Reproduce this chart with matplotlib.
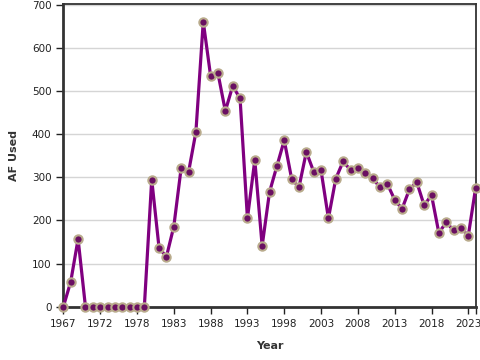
import numpy as np
import matplotlib
matplotlib.use("Agg")
import matplotlib.pyplot as plt

# years in the record (1975 is not in the data)
years = list(range(1967, 1975)) + list(range(1976, 2025))
af_used = [0, 58, 157, 0, 0, 0, 0, 0, 0, 0, 0, 0,
           295, 136, 116, 186, 322, 312, 405, 661, 535, 541,
           454, 512, 483, 205, 340, 141, 266, 326, 386, 297,
           277, 359, 313, 316, 205, 297, 337, 317, 322, 309,
           298, 277, 285, 248, 227, 272, 289, 235, 259, 171,
           196, 177, 182, 165, 276]
tick_idx = [0, 5, 10, 15, 20, 25, 30, 35, 40, 45, 50, 55, 56]
y_ticks = [0, 100, 200, 300, 400, 500, 600, 700]

x = np.arange(len(years))

fig = plt.figure(figsize=(4.8, 3.6), dpi=100)
ax = fig.add_axes([0.132, 0.148, 0.859, 0.842])

ax.plot(x, af_used, color="#800080", lw=2.3, marker="o", markersize=6,
        markerfacecolor="#6a0f62", markeredgecolor="#b9ab8c", mew=1.5,
        clip_on=False, zorder=3)

ax.set_xlim(0, len(years) - 1)
ax.set_ylim(0, 703)
ax.set_yticks(y_ticks)
ax.set_xticks(tick_idx)
# last tick (2024) has no label shown, it sits right under 2023
ax.set_xticklabels([str(years[i]) if i != 56 else "" for i in tick_idx])
ax.tick_params(labelsize=7.5, colors="#222222", length=5, width=1)
ax.yaxis.grid(True, color="#d5d5d5", lw=1)
ax.set_axisbelow(True)

for s in ["left", "bottom"]:
    ax.spines[s].set_linewidth(2)
    ax.spines[s].set_color("#333333")
for s in ["top", "right"]:
    ax.spines[s].set_linewidth(1.3)
    ax.spines[s].set_color("#333333")

ax.set_xlabel("Year", fontsize=8, fontweight="bold", color="#333333", labelpad=9)
ax.set_ylabel("AF Used", fontsize=8, fontweight="bold", color="#333333", labelpad=9)

fig.savefig("out.png", dpi=100)
